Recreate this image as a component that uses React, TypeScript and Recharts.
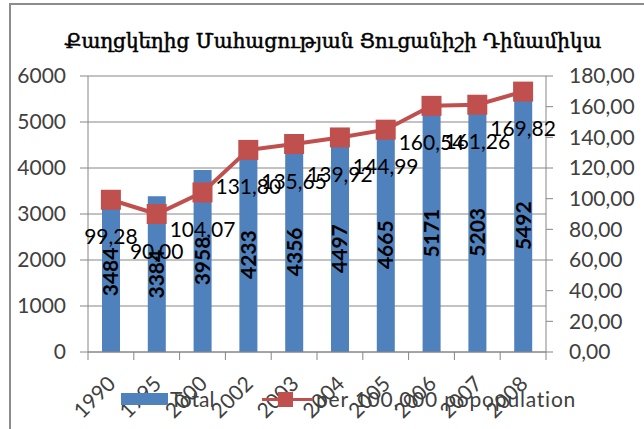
import React from "react";
import {
  ComposedChart,
  Bar,
  Line,
  XAxis,
  YAxis,
  CartesianGrid,
  LabelList,
  Legend,
} from "recharts";

const years = ["1990", "1995", "2000", "2002", "2003", "2004", "2005", "2006", "2007", "2008"];
const totals = [3484, 3384, 3958, 4233, 4356, 4497, 4665, 5171, 5203, 5492];
const per100k = [99.28, 90.0, 104.07, 131.8, 135.65, 139.92, 144.99, 160.54, 161.26, 169.82];
const leftTicks = [0, 1000, 2000, 3000, 4000, 5000, 6000];
const rightTicks = [0, 20, 40, 60, 80, 100, 120, 140, 160, 180];
const seriesNames = ["Total", "per 100,000 popopulation"];

const BLUE = "#4f81bd";
const RED = "#c0504d";
const GRID = "#868686";
const TEXT = "#404040";
const FONT = "Lato, 'Open Sans', sans-serif";

const data = years.map((year, i) => ({ year, total: totals[i], rate: per100k[i] }));

// comma decimal, like the source workbook
const fmt = (v: number) => v.toFixed(2).replace(".", ",");

// Excel-style category axis: tick marks between categories, labels at -45deg
const YearTick = (props: any) => {
  const { x, y, payload, index, visibleTicksCount } = props;
  const half = payload?.offset ?? 22.9;
  const last = index === visibleTicksCount - 1;
  return (
    <g>
      <line x1={x - half} x2={x - half} y1={y} y2={y + 8} stroke={GRID} />
      {last && <line x1={x + half} x2={x + half} y1={y} y2={y + 8} stroke={GRID} />}
      <text
        x={x + 6}
        y={y + 33}
        transform={`rotate(-45, ${x + 6}, ${y + 33})`}
        textAnchor="end"
        fontSize={21}
        fontFamily={FONT}
        fill={TEXT}
      >
        {payload.value}
      </text>
    </g>
  );
};

const RateLabel = (props: any) => {
  const { x, y, value } = props;
  return (
    <text
      x={x}
      y={y + 36}
      textAnchor="middle"
      dominantBaseline="central"
      fontSize={21}
      fontFamily={FONT}
      fill="#000"
    >
      {fmt(value)}
    </text>
  );
};

const SquareDot = (props: any) => {
  const { cx, cy, index } = props;
  return <rect key={`dot-${index}`} x={cx - 10} y={cy - 10} width={20} height={20} fill={RED} />;
};

const LegendBox = () => (
  <div style={{ position: "relative", width: 480, height: 30, fontFamily: FONT, fontSize: 21, color: TEXT }}>
    <div style={{ position: "absolute", left: 0, top: 6, width: 47, height: 12, background: BLUE }} />
    <span style={{ position: "absolute", left: 49, top: -1 }}>{seriesNames[0]}</span>
    <div style={{ position: "absolute", left: 141, top: 11, width: 51, height: 3, background: RED }} />
    <div style={{ position: "absolute", left: 157, top: 5, width: 15, height: 15, background: RED }} />
    <span style={{ position: "absolute", left: 195, top: -1, whiteSpace: "nowrap", letterSpacing: 0.8 }}>
      {seriesNames[1]}
    </span>
  </div>
);

export default function App() {
  return (
    <div
      style={{
        position: "absolute",
        left: 0,
        top: 0,
        width: 644,
        height: 429,
        overflow: "hidden",
        background: "#fff",
      }}
    >
      <div
        style={{
          position: "absolute",
          left: 9,
          top: 3,
          width: 700,
          height: 500,
          borderLeft: "2px solid #8c8c8c",
          borderTop: "2px solid #8c8c8c",
        }}
      />
      <div
        style={{
          position: "absolute",
          left: 8,
          top: 29,
          width: 650,
          textAlign: "center",
          fontFamily: "'DejaVu Serif', serif",
          fontSize: 20,
          fontWeight: "normal",
          WebkitTextStroke: "0.5px #000",
          color: "#000",
          whiteSpace: "nowrap",
        }}
      >
        Քաղցկեղից Մահացության Ցուցանիշի Դինամիկա
      </div>
      <ComposedChart
        width={644}
        height={429}
        data={data}
        margin={{ top: 76, right: 0, bottom: 0, left: 0 }}
        barCategoryGap={0}
      >
        <CartesianGrid yAxisId="left" vertical={false} stroke={GRID} />
        <XAxis
          dataKey="year"
          height={77}
          axisLine={{ stroke: GRID }}
          tickLine={false}
          tickSize={0}
          tickMargin={0}
          interval={0}
          tick={<YearTick />}
        />
        <YAxis
          yAxisId="left"
          width={88}
          domain={[0, 6000]}
          ticks={leftTicks}
          axisLine={{ stroke: GRID }}
          tickLine={{ stroke: GRID }}
          tickSize={8}
          tickMargin={14}
          tick={{ fontSize: 21, fontFamily: FONT, fill: TEXT }}
        />
        <YAxis
          yAxisId="right"
          orientation="right"
          width={98}
          domain={[0, 180]}
          ticks={rightTicks}
          tickFormatter={fmt}
          axisLine={{ stroke: GRID }}
          tickLine={{ stroke: GRID }}
          tickSize={7}
          tickMargin={16}
          tick={{ fontSize: 21, fontFamily: FONT, fill: TEXT }}
        />
        <Bar yAxisId="left" dataKey="total" name={seriesNames[0]} fill={BLUE} barSize={18} isAnimationActive={false}>
          <LabelList
            dataKey="total"
            position="center"
            angle={-90}
            fontSize={21}
            fontWeight="bold"
            fontFamily={FONT}
            fill="#000"
          />
        </Bar>
        <Line
          yAxisId="right"
          dataKey="rate"
          name={seriesNames[1]}
          stroke={RED}
          strokeWidth={4}
          dot={<SquareDot />}
          activeDot={false}
          isAnimationActive={false}
        >
          <LabelList dataKey="rate" content={<RateLabel />} />
        </Line>
        <Legend
          layout="horizontal"
          verticalAlign="middle"
          align="center"
          content={<LegendBox />}
          wrapperStyle={{ left: 121, top: 387, width: 480, height: 30 }}
        />
      </ComposedChart>
    </div>
  );
}
